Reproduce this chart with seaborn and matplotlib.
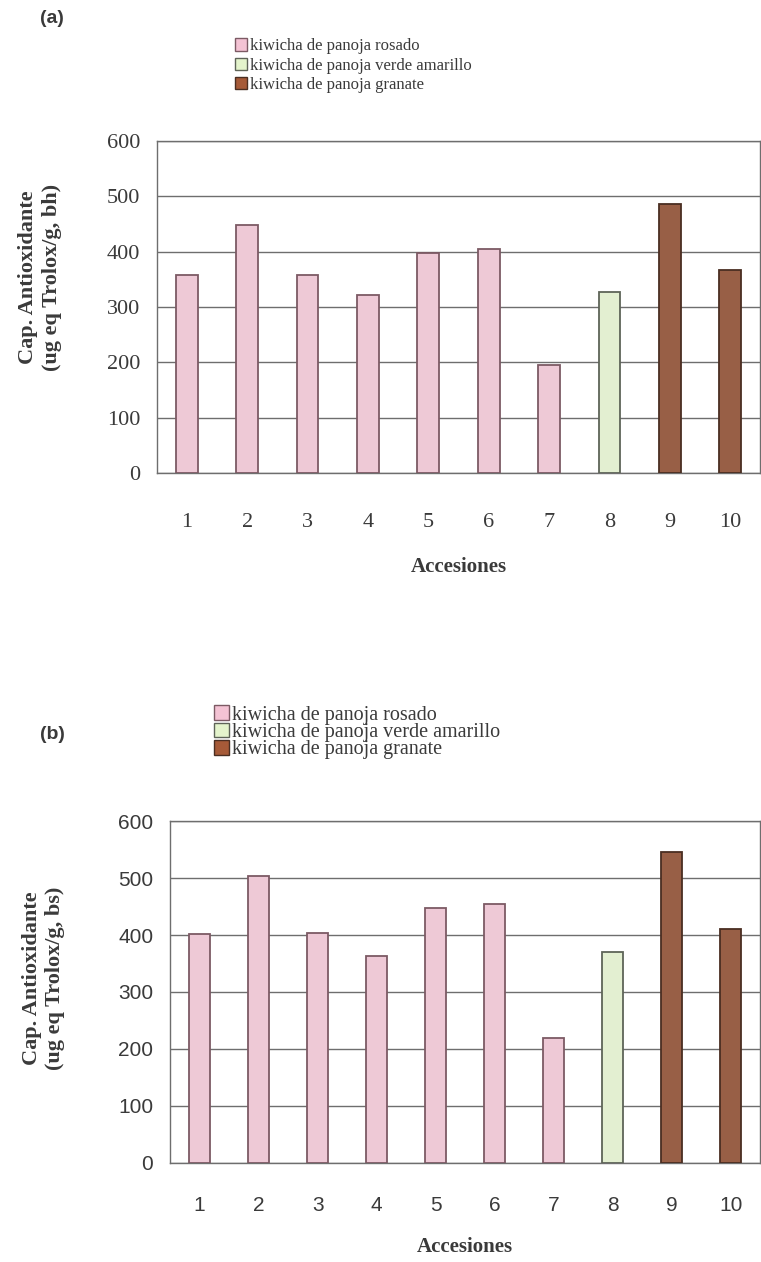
import numpy as np
import pandas as pd
import matplotlib
matplotlib.use("Agg")
import matplotlib.pyplot as plt
from matplotlib.patches import Patch
import seaborn as sns

# data
accesiones = ["1", "2", "3", "4", "5", "6", "7", "8", "9", "10"]
tipo = ["rosado"] * 7 + ["verde"] + ["granate"] * 2
valores_bh = [358, 449, 358, 322, 397, 404, 196, 327, 486, 367]
valores_bs = [401, 503, 403, 364, 448, 455, 220, 370, 545, 411]
etiquetas = ["kiwicha de panoja rosado",
             "kiwicha de panoja verde amarillo",
             "kiwicha de panoja granate"]
yticks = [0, 100, 200, 300, 400, 500, 600]

colores = {"rosado": "#F4C3D4", "verde": "#E4F4CC", "granate": "#A65A38"}
bordes = {"rosado": "#7C5A64", "verde": "#5E6458", "granate": "#4A2E22"}

sns.set_style("white")
SERIF = ["Liberation Serif", "DejaVu Serif"]
SANS = ["Liberation Sans", "DejaVu Sans"]
GRIS = "#3A3A3A"

fig = plt.figure(figsize=(7.61, 12.62), dpi=100)
ax_a = fig.add_axes([0.206, 0.6252, 0.793, 0.2631])
ax_b = fig.add_axes([0.2234, 0.0785, 0.7756, 0.2709])


def panel(ax, valores, tickfont, ticksize, pad, labelpad):
    df = pd.DataFrame({"acc": accesiones, "val": valores, "tipo": tipo})
    sns.barplot(data=df, x="acc", y="val", hue="tipo", dodge=False,
                palette=colores, width=0.36, legend=False, ax=ax, zorder=3)
    for patch, t in zip(ax.patches, tipo):
        patch.set_edgecolor(bordes[t])
        patch.set_linewidth(1.3)
    ax.set_ylim(0, 600)
    ax.set_xlim(-0.5, 9.5)
    ax.set_yticks(yticks)
    ax.yaxis.grid(True, color="#6E6E6E", linewidth=1.0, zorder=0)
    for s in ax.spines.values():
        s.set_color("#6E6E6E")
        s.set_linewidth(1.0)
    ax.set_xticks(np.arange(-0.5, 10, 1), minor=True)
    ax.tick_params(axis="x", which="major", length=0, pad=pad)
    ax.tick_params(axis="x", which="minor", length=6, direction="out",
                   color="#6E6E6E")
    ax.tick_params(axis="y", length=6, direction="out", color="#6E6E6E", pad=6)
    for lab in ax.get_xticklabels() + ax.get_yticklabels():
        lab.set_family(tickfont)
        lab.set_fontsize(ticksize)
        lab.set_color(GRIS)
    ax.set_xlabel("Accesiones", family=SERIF, fontsize=15,
                  fontweight="bold", color=GRIS, labelpad=labelpad)
    ax.set_ylabel("")


panel(ax_a, valores_bh, SERIF, 16, 29, 18)
panel(ax_b, valores_bs, SANS, 15, 24, 16)

fig.text(0.0526, 0.780, "Cap. Antioxidante\n(ug eq Trolox/g, bh)",
         family=SERIF, fontsize=16, fontweight="bold", color=GRIS,
         rotation=90, ha="center", va="center", multialignment="center",
         linespacing=1.25)
fig.text(0.0578, 0.2245, "Cap. Antioxidante\n(ug eq Trolox/g, bs)",
         family=SERIF, fontsize=16, fontweight="bold", color=GRIS,
         rotation=90, ha="center", va="center", multialignment="center",
         linespacing=1.2)

handles = [Patch(facecolor=colores[k], edgecolor=bordes[k], linewidth=1.0)
           for k in ["rosado", "verde", "granate"]]
fig.legend(handles, etiquetas, loc="upper left", bbox_to_anchor=(0.300, 0.975),
           frameon=False, prop={"family": SERIF, "size": 12},
           handlelength=0.75, handleheight=0.75, handletextpad=0.15,
           labelspacing=0.2, borderaxespad=0, labelcolor=GRIS)
fig.legend(handles, etiquetas, loc="upper left", bbox_to_anchor=(0.270, 0.4475),
           frameon=False, prop={"family": SERIF, "size": 14.5},
           handlelength=0.75, handleheight=0.75, handletextpad=0.15,
           labelspacing=-0.1, borderaxespad=0, labelcolor=GRIS)

fig.text(0.052, 0.985, "(a)", family=SANS, fontsize=14, fontweight="bold",
         color=GRIS, va="center")
fig.text(0.052, 0.418, "(b)", family=SANS, fontsize=14, fontweight="bold",
         color=GRIS, va="center")

fig.savefig("out.png", dpi=100)
